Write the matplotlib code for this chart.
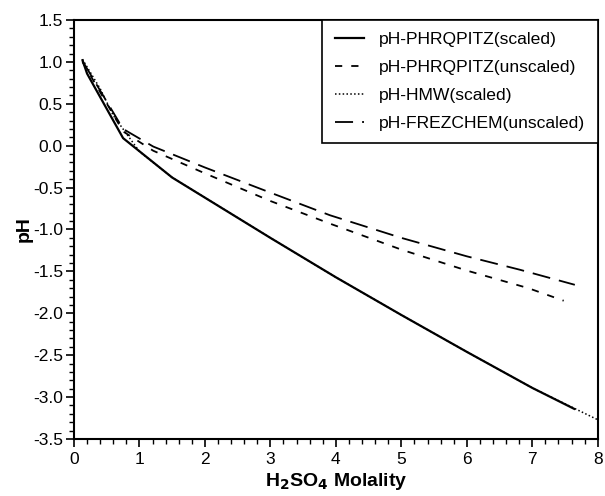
import numpy as np
import matplotlib
matplotlib.use("Agg")
import matplotlib.pyplot as plt
from matplotlib.ticker import MultipleLocator

plt.rcParams['font.family'] = ['Liberation Sans', 'DejaVu Sans']
plt.rcParams['axes.unicode_minus'] = False

# PHRQPITZ scaled (solid)
m_phrq_s = [0.13, 0.2, 0.75, 1.5, 2.0, 3.0, 4.0, 5.0, 6.0, 7.0, 7.64]
ph_phrq_s = [1.02, 0.86, 0.09, -0.38, -0.62, -1.10, -1.57, -2.02, -2.46, -2.89, -3.14]

# PHRQPITZ unscaled (short dash)
m_phrq_u = [0.13, 0.75, 1.21, 2.0, 3.0, 3.91, 5.0, 6.0, 6.94, 7.48]
ph_phrq_u = [1.00, 0.17, -0.06, -0.33, -0.66, -0.93, -1.24, -1.49, -1.70, -1.85]

# HMW scaled (dotted)
m_hmw = [0.13, 0.4, 0.6, 1.0, 1.5, 2.0, 3.0, 4.0, 5.0, 6.0, 7.0, 8.0]
ph_hmw = [1.03, 0.68, 0.36, -0.07, -0.38, -0.62, -1.10, -1.57, -2.02, -2.46, -2.89, -3.27]

# FREZCHEM unscaled (long dash)
m_frez = [0.13, 0.75, 1.21, 2.0, 3.0, 3.91, 5.0, 6.0, 6.81, 7.65]
ph_frez = [1.01, 0.20, -0.01, -0.26, -0.56, -0.83, -1.10, -1.32, -1.48, -1.66]

fig = plt.figure(figsize=(6.05, 4.96), dpi=100)
ax = fig.add_axes([0.1223, 0.1149, 0.8657, 0.8448])

ax.plot(m_phrq_s, ph_phrq_s, color='black', lw=1.6, label='pH-PHRQPITZ(scaled)')
ax.plot(m_phrq_u, ph_phrq_u, color='black', lw=1.3, dashes=(4, 5), label='pH-PHRQPITZ(unscaled)')
ax.plot(m_hmw, ph_hmw, color='black', lw=1.1, dashes=(1, 1.5), label='pH-HMW(scaled)')
ax.plot(m_frez, ph_frez, color='black', lw=1.3, dashes=(10, 5), label='pH-FREZCHEM(unscaled)')

ax.set_xlim(0, 8)
ax.set_ylim(-3.5, 1.5)
ax.xaxis.set_major_locator(MultipleLocator(1))
ax.xaxis.set_minor_locator(MultipleLocator(0.2))
ax.yaxis.set_major_locator(MultipleLocator(0.5))
ax.yaxis.set_minor_locator(MultipleLocator(0.1))
ax.tick_params(which='major', direction='out', length=6, width=1.2, labelsize=12.5, colors='black', pad=2)
ax.tick_params(axis='x', which='major', pad=3.5)
ax.tick_params(which='minor', direction='out', length=3.5, width=1.0)
for s in ax.spines.values():
    s.set_linewidth(1.5)

ax.set_xlabel(r'H$_\mathbf{2}$SO$_\mathbf{4}$ Molality', fontsize=14, fontweight='bold', labelpad=3)
ax.set_ylabel('pH', fontsize=14, fontweight='bold', labelpad=0)

leg = ax.legend(loc='upper right', borderaxespad=0, fontsize=12.6, handlelength=1.7,
                handletextpad=0.85, labelspacing=0.72, borderpad=0.7, fancybox=False, framealpha=1)
leg.get_frame().set_edgecolor('black')
leg.get_frame().set_linewidth(1.2)

fig.savefig('out.png', dpi=100)
